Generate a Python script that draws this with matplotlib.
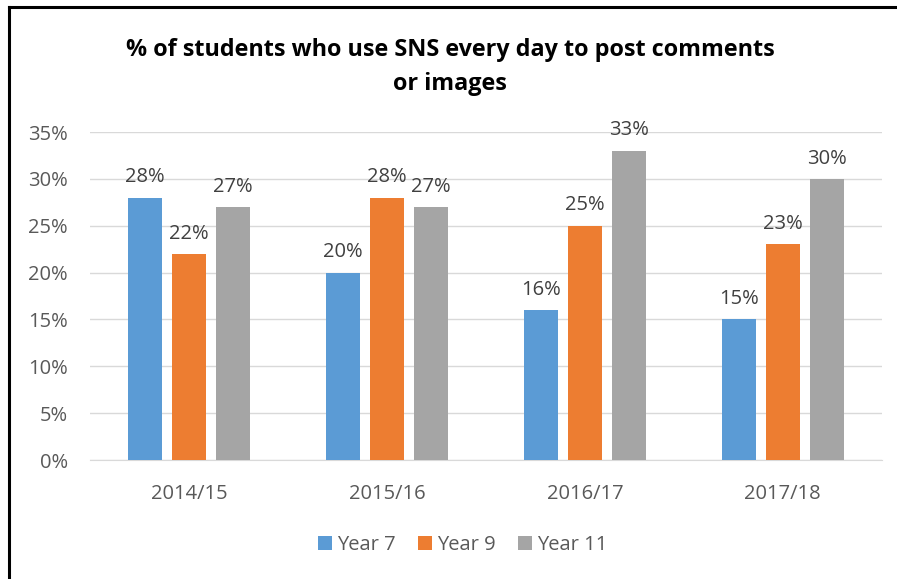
import numpy as np
import matplotlib.pyplot as plt
from matplotlib.lines import Line2D

years = ["2014/15", "2015/16", "2016/17", "2017/18"]
series = ["Year 7", "Year 9", "Year 11"]
year7 = [28, 20, 16, 15]
year9 = [22, 28, 25, 23]
year11 = [27, 27, 33, 30]
colors = ["#5b9bd5", "#ed7d31", "#a5a5a5"]

plt.rcParams['font.family'] = ['Open Sans', 'DejaVu Sans']

fig = plt.figure(figsize=(8.97, 5.79), dpi=100)
ax = fig.add_axes([0.1003, 0.2055, 0.8827, 0.5665])

x = np.arange(len(years))
width = 0.172
step = 0.222
for i, (name, vals) in enumerate(zip(series, [year7, year9, year11])):
    pos = x + (i - 1) * step
    bars = ax.bar(pos, np.array(vals) / 100, width, color=colors[i], label=name, zorder=3)
    for b, v in zip(bars, vals):
        ax.text(b.get_x() + b.get_width() / 2, v / 100 + 0.011, f"{v}%",
                ha='center', va='bottom', fontsize=14.5, color='#404040')

ax.set_xlim(-0.5, len(years) - 0.5)
ax.set_ylim(0, 0.35)
ax.set_yticks(np.arange(0, 0.36, 0.05))
ax.set_yticklabels([f"{int(round(t * 100))}%" for t in np.arange(0, 0.36, 0.05)])
ax.set_xticks(x)
ax.set_xticklabels(years)
ax.tick_params(axis='both', length=0, labelsize=14.5, colors='#595959')
ax.tick_params(axis='x', pad=17)
ax.tick_params(axis='y', pad=16)
ax.grid(axis='y', color='#d9d9d9', linewidth=1, zorder=0)
for s in ['top', 'right', 'left']:
    ax.spines[s].set_visible(False)
ax.spines['bottom'].set_color('#d9d9d9')

fig.text(0.502, 0.885, "% of students who use SNS every day to post comments\nor images",
         ha='center', va='center', fontsize=16.8, fontweight='bold', color='black',
         linespacing=1.55)

fig.legend(loc='center', bbox_to_anchor=(0.516, 0.058), ncol=3, frameon=False,
           fontsize=14.5, handlelength=0.7, handleheight=0.7, handletextpad=0.25,
           columnspacing=1.1, labelcolor='#595959')

# partial frame: top and left edges
fig.add_artist(Line2D([9 / 897, 1], [1 - 7 / 579, 1 - 7 / 579], color='black', linewidth=2.2,
                      transform=fig.transFigure))
fig.add_artist(Line2D([9 / 897, 9 / 897], [0, 1 - 7 / 579], color='black', linewidth=2.2,
                      transform=fig.transFigure))

fig.savefig("out.png", dpi=100)
